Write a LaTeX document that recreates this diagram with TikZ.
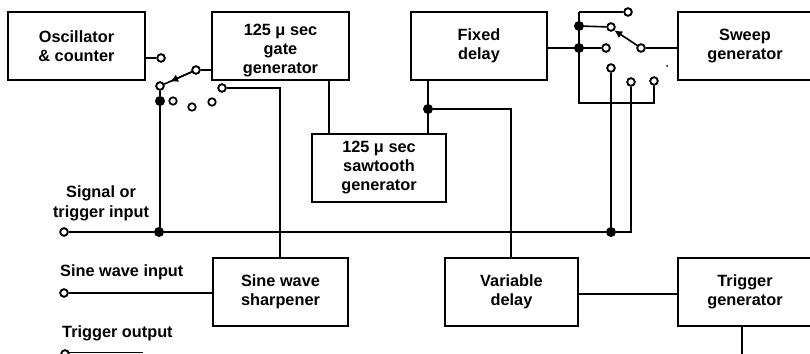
\documentclass[tikz,border=0pt]{standalone}
\usepackage{fontspec}
\setmainfont{Liberation Sans}
\usetikzlibrary{arrows.meta,calc}
\tikzset{
  x=1pt,y=-1pt,
  blockbox/.style={draw=black,line width=2pt,minimum width=#1,minimum height=68pt,inner sep=0pt,align=center,font=\fontsize{16.3}{19}\selectfont\bfseries},
  contact/.style={circle,draw=black,fill=white,line width=1.7pt,minimum size=7.5pt,inner sep=0pt},
  joint/.style={circle,fill=black,minimum size=10pt,inner sep=0pt},
  wire/.style={line width=1.6pt,line join=miter},
  lbl/.style={font=\fontsize{16.3}{20}\selectfont\bfseries,align=center,inner sep=0pt},
  tip/.style={-{Latex[length=8pt,width=8pt]}},
}
\begin{document}
\begin{tikzpicture}
\useasboundingbox (0,0) rectangle (810,353);
% blocks
\node[blockbox=137pt] (osc) at (76.5,46) {Oscillator\\\& counter};
\node[blockbox=137pt] (gate) at (280.5,46) {\rule{0pt}{20pt}125 μ sec\\gate\\generator};
\node[blockbox=136pt] (fixed) at (479,46) {Fixed\\delay};
\node[blockbox=134pt] (sweep) at (745,46) {Sweep\\generator};
\node[blockbox=134pt] (saw) at (379,168) {125 μ sec\\sawtooth\\generator};
\node[blockbox=135pt] (sine) at (280.5,291.5) {Sine wave\\sharpener};
\node[blockbox=133pt] (var) at (511.5,291.5) {Variable\\delay};
\node[blockbox=134pt] (trig) at (745,291.5) {Trigger\\generator};
% labels
\node[lbl] (l1) at (101,203) {Signal or\\trigger input};
\node[lbl,anchor=west] (l2) at (60,272) {Sine wave input};
\node[lbl,anchor=west] (l3) at (62,333.5) {Trigger output};
% coordinates
\coordinate (ocout) at (145,58);
\coordinate (gin) at (212,70);
\coordinate (gc) at (280,88);
\coordinate (cr) at (631,232);
\coordinate (bl) at (579,103);
\coordinate (br) at (654,103);
\coordinate (t1) at (579,12);
\coordinate (vc) at (511,109);
\coordinate (tc) at (742,355);
% contacts left switch
\node[contact] (c0) at (161,58) {};
\node[contact] (p1) at (160,86) {};
\node[contact] (u1) at (196,70) {};
\node[contact] (a1) at (173,101) {};
\node[contact] (a2) at (192,107) {};
\node[contact] (a3) at (212,102) {};
\node[contact] (a4) at (222,88) {};
\node[joint] (j1) at (160,101) {};
% inputs
\node[contact] (in1) at (64,232) {};
\node[contact] (in2) at (64,293) {};
\node[contact] (in3) at (65,354) {};
\node[joint] (j2) at (159,232) {};
\node[joint] (j3) at (611,232) {};
% right switch
\node[contact] (r1) at (628,12) {};
\node[contact] (r2) at (611,27) {};
\node[contact] (r3) at (606,48) {};
\node[contact] (pr) at (641,48) {};
\node[contact] (r4) at (611,68) {};
\node[contact] (r5) at (631,82) {};
\node[contact] (r6) at (654,81) {};
\node[joint] (j4) at (579,26) {};
\node[joint] (j5) at (579,48) {};
\node[joint] (j6) at (428,109) {};
% wires
\draw[wire] (ocout) -- (c0);
\draw[wire] (u1) -- (gin);
\draw[wire] (u1) -- (p1);
\draw[wire,tip] (u1) -- ($(u1)!0.72!(p1)$);
\draw[wire] (p1) -- (j1) -- (160,232);
\draw[wire] (a4) -- (gc) -- (sine.north -| gc);
\draw[wire] (329,80) -- (329,134);
\draw[wire] (fixed.south -| j6) -- (saw.north -| j6);
\draw[wire] (j6) -- (vc) -- (var.north -| vc);
\draw[wire] (in1) -- (j2) -- (j3) -- (cr) -- (r5);
\draw[wire] (j3) -- (r4);
\draw[wire] (in2) -- (sine.west |- in2);
\draw[wire] (65,352.4) -- (143,352.4);
\draw[wire] (var.east |- 0,294) -- (trig.west |- 0,294);
\draw[wire] (742,325) -- (tc);
\draw[wire] (fixed.east |- j5) -- (r3);
\draw[wire] (j4) -- (r2);
\draw[wire] (t1) -- (r1);
\draw[wire] (t1) -- (bl) -- (br) -- (r6);
\draw[wire] (pr) -- (sweep.west |- pr);
\draw[wire,tip] (pr) -- (r2.south east);
% contacts over wires
\foreach \n in {c0,p1,u1,a4,in1,in2,in3,r1,r2,r3,pr,r4,r5,r6}{\node[contact] at (\n) {};}
\fill (667,66) circle (1pt);
\end{tikzpicture}
\end{document}
